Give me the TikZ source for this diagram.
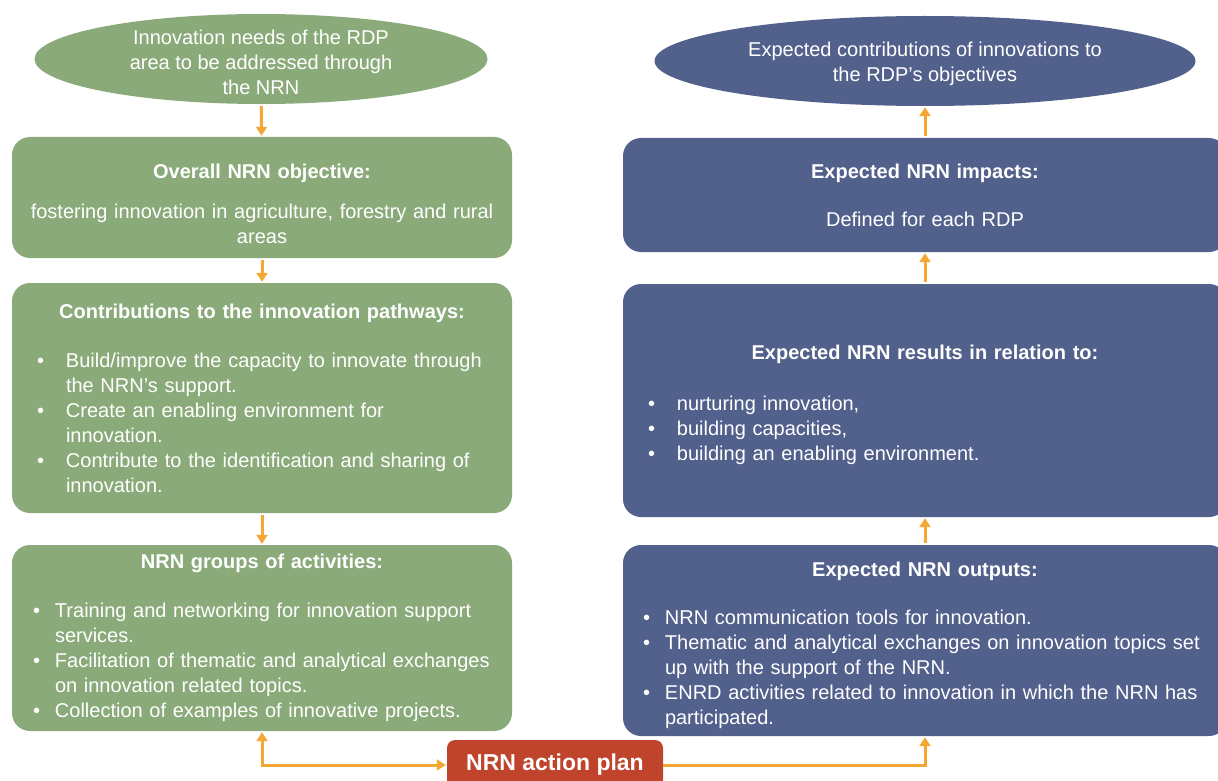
\documentclass[tikz,border=0pt]{standalone}
\usepackage{fontspec}
\setmainfont{Liberation Sans}
\usetikzlibrary{shapes.geometric,arrows.meta}

\definecolor{nrngreen}{HTML}{8AAA7A}
\definecolor{nrnblue}{HTML}{52608C}
\definecolor{nrnred}{HTML}{C0442C}
\definecolor{nrnorange}{HTML}{F5A733}

\newcommand{\dotitem}[1]{\makebox[#1][l]{\textbullet}}
\newcommand{\dotcont}[1]{\hspace*{#1}}
\newcommand{\boxtitle}[1]{\hspace*{\fill}\textbf{#1}\hspace*{\fill}\null}
\newcommand{\lift}[1]{\rule{0pt}{#1}}

\tikzset{
    box/.style={rounded corners=18pt, text=white, font=\fontsize{20}{25}\selectfont, inner ysep=0pt, align=left},
    greenbox/.style={box, fill=nrngreen, minimum width=500pt},
    bluebox/.style={box, fill=nrnblue, minimum width=604pt},
    oval/.style={ellipse, text=white, font=\fontsize{20}{25}\selectfont, align=center, inner xsep=0pt, inner ysep=-6pt},
    flow/.style={draw=nrnorange, line width=3pt, -{Triangle[width=11pt,length=9pt]}, shorten >=1pt, shorten <=2pt},
}

\begin{document}
\begin{tikzpicture}[x=1pt,y=-1pt]
    \useasboundingbox (0,0) rectangle (1218,781);

    % left column
    \node[oval, fill=nrngreen, minimum width=453pt, minimum height=90pt] (gneed) at (261,59)
        {\lift{20.6pt}Innovation needs of the RDP\\area to be addressed through\\the NRN};
    \node[greenbox, minimum height=121pt, align=center, text width=476pt, inner xsep=12pt] (gobj) at (262,197.5)
        {\lift{26.6pt}\textbf{Overall NRN objective:}\\[15pt]
         fostering innovation in agriculture, forestry and rural\\areas};
    \node[greenbox, minimum height=230pt, text width=450pt, inner xsep=25pt] (gpath) at (262,398)
        {\boxtitle{Contributions to the innovation pathways:}\\[24pt]
         \dotitem{29pt}Build/improve the capacity to innovate through\\
         \dotcont{29pt}the NRN's support.\\
         \dotitem{29pt}Create an enabling environment for\\
         \dotcont{29pt}innovation.\\
         \dotitem{29pt}Contribute to the identification and sharing of\\
         \dotcont{29pt}innovation.};
    \node[greenbox, minimum height=186pt, text width=458pt, inner xsep=21pt] (gact) at (262,638)
        {\boxtitle{NRN groups of activities:}\\[24pt]
         \dotitem{22pt}Training and networking for innovation support\\
         \dotcont{22pt}services.\\
         \dotitem{22pt}Facilitation of thematic and analytical exchanges\\
         \dotcont{22pt}on innovation related topics.\\
         \dotitem{22pt}Collection of examples of innovative projects.};

    % right column
    \node[oval, fill=nrnblue, minimum width=541pt, minimum height=90pt] (bcontr) at (925,61)
        {\lift{20.6pt}Expected contributions of innovations to\\the RDP's objectives};
    \node[bluebox, minimum height=114pt, align=center, text width=580pt, inner xsep=12pt] (bimp) at (925,195)
        {\textbf{Expected NRN impacts:}\\[23pt]Defined for each RDP};
    \node[bluebox, minimum height=233pt, text width=554pt, inner xsep=25pt] (bres) at (925,400.5)
        {\lift{22.6pt}\boxtitle{Expected NRN results in relation to:}\\[26pt]
         \dotitem{29pt}nurturing innovation,\\
         \dotitem{29pt}building capacities,\\
         \dotitem{29pt}building an enabling environment.};
    \node[bluebox, minimum height=191pt, text width=564pt, inner xsep=20pt] (bout) at (925,640.5)
        {\lift{24.6pt}\boxtitle{Expected NRN outputs:}\\[23pt]
         \dotitem{22pt}NRN communication tools for innovation.\\
         \dotitem{22pt}Thematic and analytical exchanges on innovation topics set\\
         \dotcont{22pt}up with the support of the NRN.\\
         \dotitem{22pt}ENRD activities related to innovation in which the NRN has\\
         \dotcont{22pt}participated.};

    % action plan
    \node[fill=nrnred, rounded corners=8pt, text=white, font=\fontsize{23}{28}\selectfont\bfseries,
          minimum width=216pt, minimum height=50pt] (plan) at (555,765) {NRN action plan};

    % arrows
    \draw[flow] (gneed) -- (gobj);
    \draw[flow] (gobj) -- (gpath);
    \draw[flow] (gpath) -- (gact);
    \draw[flow] (bout) -- (bres);
    \draw[flow] (bres) -- (bimp);
    \draw[flow] (bimp) -- (bcontr);
    \draw[flow, {Triangle[width=11pt,length=9pt]}-{Triangle[width=11pt,length=9pt]}, shorten <=1pt] (gact.south) |- (plan.west);
    \draw[flow, shorten <=0pt] (plan.east) -| (bout.south);
\end{tikzpicture}
\end{document}
